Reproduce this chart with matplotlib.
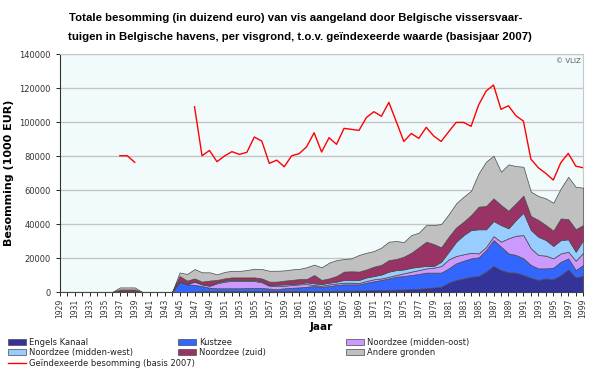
import numpy as np
import matplotlib
matplotlib.use("Agg")
import matplotlib.pyplot as plt

# jaren op de x-as
years = np.arange(1929, 2000)

# gestapelde bovengrenzen per visgrond (duizend x 1000 EUR), 1945-1999
top_engels = [0, 0, 0.3, 0.5, 0.5, 0.6, 0.6, 0.6, 0.6, 0.6, 0.6, 0.6,
              0.5, 0.5, 0.5, 0.5, 0.5, 0.5, 0.5, 0.5, 0.6, 0.7,
              0.8, 0.8, 0.9, 1.0, 1.1, 1.2, 1.3, 1.4, 1.5, 1.7,
              1.9, 2.3, 2.7, 3.1, 5.5, 7.1, 8.0, 9.0, 9.4, 12.0,
              15.3, 12.9, 11.6, 11.4, 10.0, 8.4, 7.1, 8.0, 7.5, 10.0,
              13.3, 8.6, 9.4]
top_kust = [6.1, 4.5, 4.1, 3.5, 2.5, 2.2, 2.2, 2.2, 2.2, 2.3, 2.4, 2.4,
            2.0, 1.6, 2.2, 2.5, 2.7, 3.1, 3.5, 3.0, 3.5, 4.1,
            4.5, 4.5, 4.5, 5.5, 6.3, 7.1, 8.0, 9.0, 9.4, 10.0,
            10.6, 11.4, 11.4, 11.4, 13.9, 16.9, 18.4, 19.8, 20.4, 24.7,
            30.6, 26.7, 22.7, 21.8, 19.8, 15.9, 13.9, 13.9, 14.3, 17.8,
            19.8, 12.9, 15.9]
top_oost = [6.1, 4.6, 6.1, 4.5, 3.7, 5.1, 6.1, 6.5, 6.5, 6.5, 6.5, 5.7,
            3.7, 3.5, 3.7, 4.1, 4.5, 4.7, 4.1, 3.7, 4.5, 5.0,
            5.5, 5.5, 5.3, 6.5, 7.5, 8.0, 9.0, 10.0, 11.0, 12.0,
            12.9, 13.9, 14.3, 15.3, 19.2, 21.2, 22.2, 23.1, 22.7, 26.5,
            32.9, 29.6, 31.6, 33.1, 33.5, 25.7, 21.8, 21.4, 19.8, 22.7,
            23.7, 18.4, 23.1]
top_west = [6.3, 4.8, 6.3, 4.7, 3.9, 5.7, 6.7, 7.1, 7.1, 7.1, 7.1, 6.3,
            4.1, 4.3, 4.5, 4.7, 5.1, 5.7, 5.1, 4.7, 5.5, 6.1,
            7.1, 7.1, 7.1, 8.6, 9.4, 10.3, 12.0, 12.9, 13.3, 14.3,
            14.9, 15.3, 15.3, 17.8, 23.7, 29.6, 33.5, 36.5, 36.9, 36.9,
            41.8, 39.4, 37.5, 42.4, 46.7, 36.5, 32.5, 30.6, 27.1, 30.6,
            31.0, 23.7, 30.6]
top_zuid = [9.4, 6.7, 8.0, 6.1, 6.7, 7.1, 8.0, 8.6, 8.6, 8.6, 8.6, 8.0,
            6.1, 6.1, 6.7, 7.1, 7.6, 7.6, 10.0, 7.1, 8.0, 9.4,
            12.0, 12.2, 12.0, 13.3, 14.9, 16.0, 18.8, 19.4, 20.8, 23.1,
            26.3, 29.6, 28.2, 26.3, 32.5, 38.0, 41.4, 45.3, 50.2, 50.6,
            55.1, 51.2, 47.8, 52.2, 56.7, 44.7, 42.4, 39.4, 36.1, 43.3,
            42.9, 36.9, 39.4]
top_andere = [11.5, 10.6, 13.5, 11.6, 11.6, 10.4, 11.8, 12.5, 12.4, 12.9, 13.7, 13.5,
              12.5, 12.5, 12.7, 13.3, 13.6, 14.6, 16.1, 14.5, 17.3, 18.8,
              19.4, 19.8, 21.8, 23.1, 24.1, 26.2, 29.6, 30.0, 29.4, 33.5,
              34.9, 39.4, 39.4, 40.0, 45.7, 52.2, 56.1, 59.6, 69.8, 76.7,
              80.2, 70.8, 75.1, 74.1, 73.7, 59.0, 56.5, 55.1, 52.5, 61.0,
              67.8, 61.9, 61.4]

# kleine bult 1937-1939 (zelfde volgorde van lagen)
bump_years = [1937, 1938, 1939]
bump_tops = [0.4, 0.4, 0.4, 0.4, 1.5, 2.7]

# geindexeerde besomming (basis 2007)
red_1937 = [80.2, 80.2, 76.3]
red_1947 = [109.0, 80.2, 83.3, 76.7, 80.0, 82.6, 81.0, 82.2, 91.2, 88.8,
            75.7, 77.6, 73.7, 80.2, 81.4, 85.5, 93.7, 82.4, 90.8, 86.9,
            96.3, 95.7, 95.1, 102.7, 106.1, 103.4, 111.6, 100.2, 88.6, 93.3,
            90.4, 96.9, 91.8, 88.6, 94.3, 99.8, 99.8, 97.5, 110.0, 118.2,
            121.8, 107.5, 109.6, 103.7, 100.6, 78.2, 73.1, 69.8, 65.9, 76.1,
            81.6, 74.1, 73.1]

labels = ['Engels Kanaal', 'Kustzee', 'Noordzee (midden-oost)',
          'Noordzee (midden-west)', 'Noordzee (zuid)', 'Andere gronden']
colors = ['#333399', '#3366FF', '#CC99FF', '#99CCFF', '#993366', '#C0C0C0']

tops = []
for i, t in enumerate([top_engels, top_kust, top_oost, top_west, top_zuid, top_andere]):
    full = np.zeros(len(years))
    full[years >= 1945] = np.array(t) * 1000
    for y in bump_years:
        full[years == y] = bump_tops[i] * 1000
    tops.append(full)

red = np.full(len(years), np.nan)
red[(years >= 1937) & (years <= 1939)] = np.array(red_1937) * 1000
red[years >= 1947] = np.array(red_1947) * 1000

fig = plt.figure(figsize=(6, 3.68), dpi=100)
ax = fig.add_axes([0.1, 0.2065, 0.872, 0.6465])
ax.set_facecolor('#F2FBFC')

handles = []
lower = np.zeros(len(years))
for top, c, lab in zip(tops, colors, labels):
    h = ax.fill_between(years, lower, top, facecolor=c, edgecolor='#4a4a4a',
                        linewidth=0.5, label=lab, zorder=3)
    handles.append(h)
    lower = top
line, = ax.plot(years, red, color='#FF0000', lw=1.0, zorder=4,
                label='Geïndexeerde besomming (basis 2007)')

ax.set_xlim(1929, 1999)
ax.set_ylim(0, 140000)
ax.set_yticks(np.arange(0, 140001, 20000))
ax.set_xticks(years, minor=True)
ax.set_xticks(np.arange(1929, 2000, 2))
ax.tick_params(axis='x', which='both', length=3, width=0.6, labelsize=5.5,
               labelcolor='#333333', rotation=90, pad=2)
ax.tick_params(axis='y', length=3, width=0.6, labelsize=6, labelcolor='#333333')
ax.grid(axis='y', color='#C4C4C4', lw=1.0, zorder=1)
for s in ['top', 'right']:
    ax.spines[s].set_color('#C8C8C8')
    ax.spines[s].set_linewidth(0.8)
for s in ['left', 'bottom']:
    ax.spines[s].set_color('#333333')
    ax.spines[s].set_linewidth(0.8)

ax.set_xlabel('Jaar', fontsize=7.5, fontweight='bold', labelpad=3)
ax.set_ylabel('Besomming (1000 EUR)', fontsize=8, fontweight='bold', labelpad=4)
ax.text(0.995, 0.985, '© VLIZ', transform=ax.transAxes, ha='right', va='top',
        fontsize=5, color='#555555')

title_font = dict(ha='center', va='center', fontsize=8.2, fontweight='bold',
                  family='Liberation Sans')
fig.text(0.493, 1 - 18 / 368, 'Totale besomming (in duizend euro) van vis aangeland door Belgische vissersvaar-',
         **title_font)
fig.text(0.5, 1 - 37 / 368, 'tuigen in Belgische havens, per visgrond, t.o.v. geïndexeerde waarde (basisjaar 2007)',
         **title_font)

cols = [[handles[0], handles[3], line], [handles[1], handles[4]], [handles[2], handles[5]]]
xpos = [0.005, 0.288, 0.568]
for hs, xp in zip(cols, xpos):
    fig.legend(handles=hs, labels=[h.get_label() for h in hs], loc='upper left',
               bbox_to_anchor=(xp, 0.095), frameon=False, fontsize=6,
               handlelength=2.2, handleheight=0.7, handletextpad=0.3,
               labelspacing=0.15, borderpad=0.1, labelcolor='#222222')

fig.savefig('out.png', dpi=100)
